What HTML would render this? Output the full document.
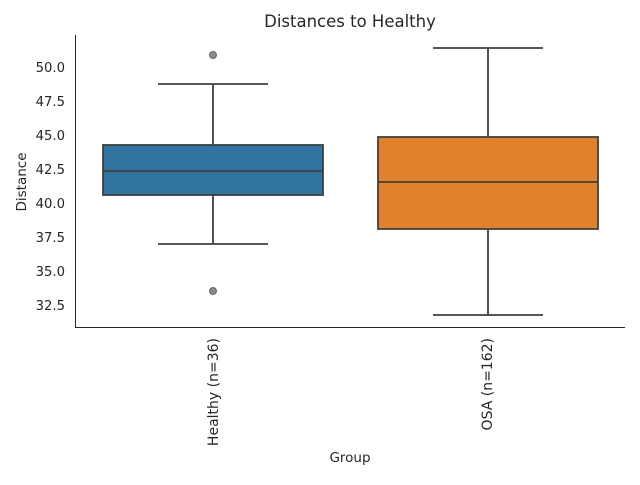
<!DOCTYPE html>
<html><head><meta charset="utf-8"><style>body{margin:0;background:#fff}</style></head><body>
<svg width="640" height="480" xmlns="http://www.w3.org/2000/svg" font-family="DejaVu Sans, sans-serif" fill="#262626">
<rect width="640" height="480" fill="#fff"/>
<text x="350" y="27" font-size="16.5" text-anchor="middle">Distances to Healthy</text>
<g font-size="13.2" text-anchor="end">
<text x="65" y="72">50.0</text>
<text x="65" y="106">47.5</text>
<text x="65" y="140">45.0</text>
<text x="65" y="174">42.5</text>
<text x="65" y="208">40.0</text>
<text x="65" y="242">37.5</text>
<text x="65" y="276">35.0</text>
<text x="65" y="310">32.5</text>
</g>
<text transform="translate(26,182) rotate(-90)" font-size="13.5" text-anchor="middle">Distance</text>
<text transform="translate(218,338) rotate(-90)" font-size="14" text-anchor="end">Healthy (n=36)</text>
<text transform="translate(492,338) rotate(-90)" font-size="14" text-anchor="end">OSA (n=162)</text>
<text x="350" y="462" font-size="13.5" text-anchor="middle">Group</text>
<g stroke="#3f3f3f" stroke-width="1.8" fill="none">
<rect x="103" y="145" width="220" height="50" fill="#3274a1"/>
<line x1="103" y1="171" x2="323" y2="171"/>
<line x1="213" y1="145" x2="213" y2="84"/>
<line x1="213" y1="195" x2="213" y2="244"/>
<line x1="158" y1="84" x2="268" y2="84"/>
<line x1="158" y1="244" x2="268" y2="244"/>
<rect x="378" y="137" width="220" height="92" fill="#e1812c"/>
<line x1="378" y1="182" x2="598" y2="182"/>
<line x1="488" y1="137" x2="488" y2="48"/>
<line x1="488" y1="229" x2="488" y2="315"/>
<line x1="433" y1="48" x2="543" y2="48"/>
<line x1="433" y1="315" x2="543" y2="315"/>
</g>
<circle cx="213" cy="55" r="3.5" fill="#8a8a8a" stroke="#6a6a6a"/>
<circle cx="213" cy="291" r="3.5" fill="#8a8a8a" stroke="#6a6a6a"/>
<g stroke="#262626" stroke-width="1">
<line x1="75.5" y1="35" x2="75.5" y2="327.5"/>
<line x1="75" y1="327.5" x2="625" y2="327.5"/>
</g>
</svg>
</body></html>
